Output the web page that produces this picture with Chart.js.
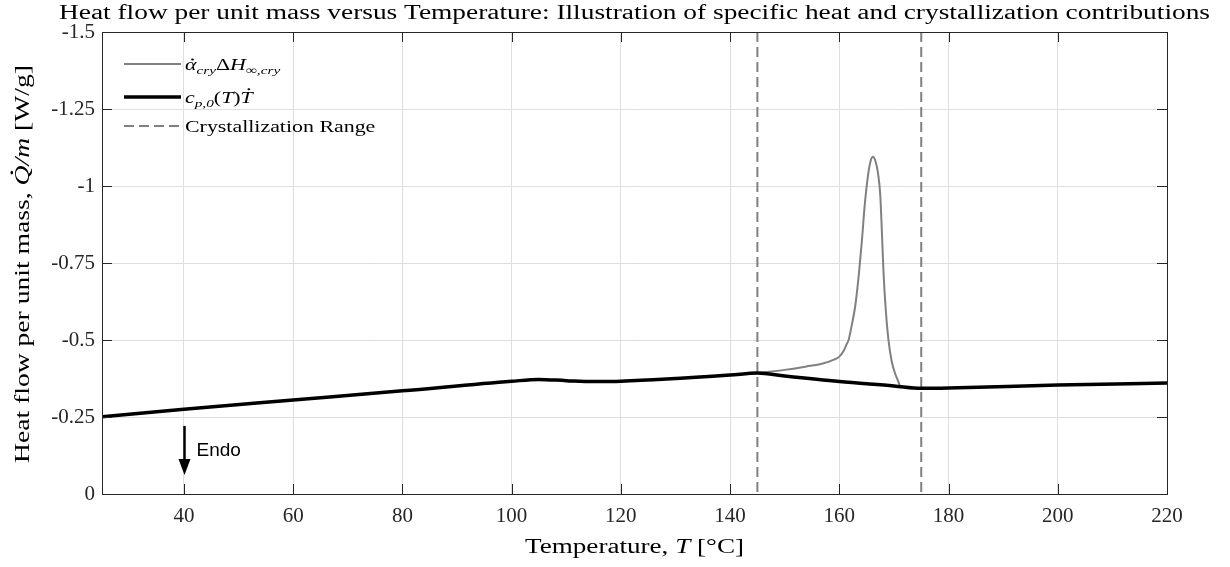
<!DOCTYPE html>
<html>
<head>
<meta charset="utf-8">
<script src="https://cdn.jsdelivr.net/npm/chart.js@4.4.1/dist/chart.umd.min.js"></script>
<style>
html,body{margin:0;padding:0;background:#fff;}
#wrap{width:1230px;height:567px;position:relative;}
</style>
</head>
<body>
<div id="wrap"><canvas id="c" width="1230" height="567"></canvas></div>
<script>
// ---------- data ----------
const xTicks = [40, 60, 80, 100, 120, 140, 160, 180, 200, 220];
const yTicks = [0, -0.25, -0.5, -0.75, -1, -1.25, -1.5];
const yTickLabels = ['0', '-0.25', '-0.5', '-0.75', '-1', '-1.25', '-1.5'];

// specific heat contribution c_p,0(T) * Tdot
const cpT = [25, 40, 60, 80, 100, 105, 110, 115, 120, 140, 145, 150, 160, 170, 175, 180, 200, 220];
const cpQ = [-0.251, -0.275, -0.305, -0.335, -0.366, -0.372, -0.368, -0.365, -0.366, -0.386, -0.393, -0.383, -0.365, -0.351, -0.343, -0.344, -0.354, -0.360];

// crystallization contribution (drawn on top of baseline)
const cryT = [145, 150, 154, 157, 159, 160, 160.8, 161.3, 161.7, 162.3, 162.9, 163.6, 164.15, 164.63, 165.3, 165.8, 166.16, 166.6, 167.1, 167.5, 167.8, 168.1, 168.5, 169.0, 169.6, 170.2, 170.7, 171.1, 171.6];
const cryQ = [-0.393, -0.403, -0.414, -0.424, -0.436, -0.446, -0.465, -0.485, -0.5, -0.55, -0.608, -0.717, -0.825, -0.933, -1.04, -1.085, -1.095, -1.082, -1.04, -0.97, -0.85, -0.717, -0.6, -0.5, -0.43, -0.392, -0.37, -0.352, -0.348];

// crystallization range
const rangeT = [145, 175];
const yMin = -1.5, yMax = 0, xMin = 25, xMax = 220;

// Endo annotation (data coords)
const endoX = 40, endoYStart = -0.221, endoYEnd = -0.062;

const toXY = (xs, ys) => xs.map((x, i) => ({x: x, y: ys[i]}));

const SERIF = '"Liberation Serif", "DejaVu Serif", serif';
const AXC = '#262626';

// segment: [text, style, dot]  style: 'n' | 'i' | 'isub' ; dot: 'x' (over lowercase) or 'c' (over capital)
function setF(ctx, s, size) {
  const sub = s[1].indexOf('sub') >= 0;
  const it = s[1].indexOf('i') === 0;
  const fs = sub ? size * 0.7 : size;
  ctx.font = (it ? 'italic ' : '') + fs + 'px ' + SERIF;
  return sub;
}
function measureRich(ctx, segs, size) {
  let w = 0;
  for (const s of segs) { setF(ctx, s, size); w += ctx.measureText(s[0]).width; }
  return w;
}
function drawRich(ctx, segs, x, y, size) {
  let cx = x;
  for (const s of segs) {
    const sub = setF(ctx, s, size);
    ctx.fillText(s[0], cx, sub ? y + size * 0.22 : y);
    const w = ctx.measureText(s[0]).width;
    if (s[2]) {
      const h = s[2] === 'c' ? size * 0.86 : size * 0.66;
      const off = s[2] === 'c' ? size * 0.1 : size * 0.08;
      ctx.beginPath();
      ctx.arc(cx + w / 2 + off, y - h, size * 0.065, 0, Math.PI * 2);
      ctx.fill();
    }
    cx += w;
  }
  return cx - x;
}
// draw rich text horizontally scaled to target width, centred at (cx, y baseline)
function drawFit(ctx, segs, cx, y, size, target, rot) {
  const w = measureRich(ctx, segs, size);
  const k = target / w;
  ctx.save();
  ctx.translate(cx, y);
  if (rot) ctx.rotate(rot);
  ctx.scale(k, 1);
  drawRich(ctx, segs, -w / 2, 0, size);
  ctx.restore();
  return k;
}

const decor = {
  id: 'decor',
  afterDraw(chart) {
    const ctx = chart.ctx;
    const a = chart.chartArea;
    const xs = chart.scales.x, ys = chart.scales.y;
    ctx.save();
    // box
    ctx.strokeStyle = AXC;
    ctx.lineWidth = 1;
    ctx.strokeRect(Math.round(a.left) + 0.5, Math.round(a.top) + 0.5, Math.round(a.right - a.left), Math.round(a.bottom - a.top));
    // inward ticks
    ctx.beginPath();
    for (const v of xTicks) {
      const p = Math.round(xs.getPixelForValue(v)) + 0.5;
      ctx.moveTo(p, a.bottom); ctx.lineTo(p, a.bottom - 10);
      ctx.moveTo(p, a.top); ctx.lineTo(p, a.top + 10);
    }
    for (const v of yTicks) {
      const p = Math.round(ys.getPixelForValue(v)) + 0.5;
      ctx.moveTo(a.left, p); ctx.lineTo(a.left + 10, p);
      ctx.moveTo(a.right, p); ctx.lineTo(a.right - 10, p);
    }
    ctx.stroke();

    ctx.fillStyle = '#000';
    ctx.textBaseline = 'alphabetic';
    ctx.textAlign = 'left';
    const mid = (a.left + a.right) / 2;
    // title
    const tSegs = [['Heat flow per unit mass versus Temperature: Illustration of specific heat and crystallization contributions', 'n']];
    const k = drawFit(ctx, tSegs, mid, 19, 20, 1151, 0);

    // x label
    const xl = [['Temperature, ', 'n'], ['T', 'i'], [' [\u00B0C]', 'n']];
    drawFit(ctx, xl, mid, 553, 20, 219, 0);

    // y label
    const yl = [['Heat flow per unit mass, ', 'n'], ['Q', 'i', 'c'], ['/m', 'i'], [' [W/g]', 'n']];
    drawFit(ctx, yl, 29, 264, 20, 398, -Math.PI / 2);

    // legend
    const lx0 = a.left + 22, lx1 = a.left + 79, tx = a.left + 83;
    const rows = [
      {y: 64, color: '#808080', lw: 2, dash: [], segs: [['\u03B1', 'i', 'x'], ['cry', 'isub'], ['\u0394', 'n'], ['H', 'i'], ['\u221E,cry', 'isub']]},
      {y: 97, color: '#000000', lw: 3.5, dash: [], segs: [['c', 'i'], ['p,0', 'isub'], ['(', 'n'], ['T', 'i'], [')', 'n'], ['T', 'i', 'c']]},
      {y: 126, color: '#808080', lw: 2, dash: [10, 5], segs: [['Crystallization Range', 'n']]}
    ];
    for (const r of rows) {
      ctx.beginPath();
      ctx.strokeStyle = r.color; ctx.lineWidth = r.lw; ctx.setLineDash(r.dash);
      ctx.moveTo(lx0, r.y); ctx.lineTo(lx1, r.y); ctx.stroke();
      ctx.setLineDash([]);
      ctx.fillStyle = '#000';
      ctx.save();
      ctx.translate(tx, r.y + 6);
      ctx.scale(k, 1);
      drawRich(ctx, r.segs, 0, 0, 16);
      ctx.restore();
    }

    // Endo arrow
    const ex = Math.round(xs.getPixelForValue(endoX)) + 0.5;
    const ey0 = ys.getPixelForValue(endoYStart), ey1 = ys.getPixelForValue(endoYEnd);
    ctx.strokeStyle = '#000'; ctx.lineWidth = 2.5;
    ctx.beginPath(); ctx.moveTo(ex, ey0); ctx.lineTo(ex, ey1 - 12); ctx.stroke();
    ctx.fillStyle = '#000';
    ctx.beginPath(); ctx.moveTo(ex - 6, ey1 - 16); ctx.lineTo(ex + 6, ey1 - 16); ctx.lineTo(ex, ey1); ctx.closePath(); ctx.fill();
    ctx.font = '19px "Liberation Sans", Arial, sans-serif';
    ctx.textBaseline = 'middle';
    ctx.fillText('Endo', ex + 12, (ey0 + ey1) / 2);
    ctx.restore();
  }
};

new Chart(document.getElementById('c'), {
  type: 'line',
  data: {
    datasets: [
      {label: 'cp', data: toXY(cpT, cpQ), borderColor: '#000000', borderWidth: 3.5, pointRadius: 0, cubicInterpolationMode: 'monotone', fill: false},
      {label: 'cry', data: toXY(cryT, cryQ), borderColor: '#808080', borderWidth: 2, pointRadius: 0, cubicInterpolationMode: 'monotone', fill: false},
      {label: 'r1', data: [{x: rangeT[0], y: yMin}, {x: rangeT[0], y: yMax}], borderColor: '#808080', borderWidth: 2, borderDash: [10, 5], pointRadius: 0, fill: false},
      {label: 'r2', data: [{x: rangeT[1], y: yMin}, {x: rangeT[1], y: yMax}], borderColor: '#808080', borderWidth: 2, borderDash: [10, 5], pointRadius: 0, fill: false}
    ]
  },
  options: {
    responsive: false,
    animation: false,
    events: [],
    layout: {padding: {left: 0, right: 63, top: 32, bottom: 0}},
    plugins: {legend: {display: false}, tooltip: {enabled: false}, title: {display: false}},
    scales: {
      x: {
        type: 'linear', min: xMin, max: xMax,
        afterBuildTicks: s => { s.ticks = xTicks.map(v => ({value: v})); },
        afterFit: s => { s.height = 73; },
        grid: {color: '#dedede', lineWidth: 1, drawTicks: false},
        border: {display: false},
        ticks: {font: {family: SERIF, size: 21}, color: AXC, padding: 10, maxRotation: 0, callback: v => String(v)}
      },
      y: {
        type: 'linear', min: yMin, max: yMax, reverse: true,
        afterBuildTicks: s => { s.ticks = yTicks.map(v => ({value: v})); },
        afterFit: s => { s.width = 102; },
        grid: {color: '#dedede', lineWidth: 1, drawTicks: false},
        border: {display: false},
        ticks: {font: {family: SERIF, size: 21}, color: AXC, padding: 7,
          callback: (v) => { const i = yTicks.indexOf(v); return i >= 0 ? yTickLabels[i] : ''; }}
      }
    }
  },
  plugins: [decor]
});
</script>
</body>
</html>
